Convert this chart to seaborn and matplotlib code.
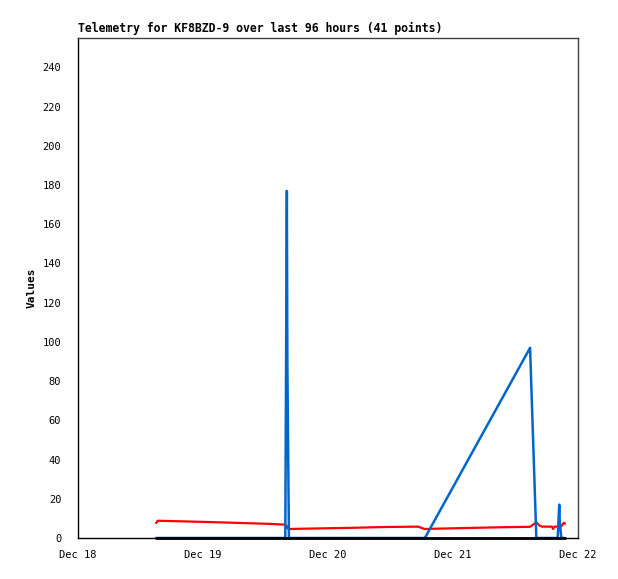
import numpy as np
import pandas as pd
import seaborn as sns
import matplotlib.pyplot as plt
import matplotlib.dates as mdates

# 時刻（12月18日0時からの経過時間）
hours = [15.0, 15.3, 24.4, 30.7, 36.9, 39.8, 40.1, 40.2, 40.5, 46.5,
         52.7, 58.9, 65.3, 66.4, 66.6, 71.2, 76.4, 81.6, 86.8, 88.0,
         88.6, 89.1, 91.0, 91.2, 91.5, 92.1, 92.4, 92.5, 92.8, 93.3, 93.5]

# 各系列の値（NaN はその時刻に値なし）
red_values = [7.6, 8.8, 8.2, 7.7, 7.2, 6.8, 6.0, 5.0, 4.6, 4.9,
              5.2, 5.6, 5.8, 4.7, 4.6, 4.9, 5.2, 5.5, 5.7, 8.0,
              6.4, 5.8, 5.8, 4.6, 5.8, 5.8, 5.8, 5.9, 6.0, 7.8, 7.3]
blue_values = [0, 0, 0, 0, 0, 0, 177, 88, 0, 0,
               0, 0, 0, 0, 0, np.nan, np.nan, np.nan, 97, 0,
               0, 0, 0, 0, 0, 0, 17, 8.3, 0, 0, 0]
black_values = [0] * len(hours)

title = 'Telemetry for KF8BZD-9 over last 96 hours (41 points)'
y_ticks = list(range(0, 241, 20))

base = pd.Timestamp('2023-12-18')
df = pd.DataFrame({
    'time': [base + pd.Timedelta(hours=h) for h in hours],
    'red': red_values,
    'blue': blue_values,
    'black': black_values,
})

sns.set_style('white')
plt.rcParams['font.family'] = ['DejaVu Sans Mono', 'DejaVu Sans']
plt.rcParams['text.color'] = 'black'
plt.rcParams['axes.labelcolor'] = 'black'

fig = plt.figure(figsize=(6.18, 5.79), dpi=100)
ax = fig.add_axes([78 / 618, 41 / 579, 500 / 618, 500 / 579])

# 線を描画（赤 → 青 → 黒の順）
sns.lineplot(data=df, x='time', y='red', ax=ax, color='#ff0000', linewidth=1.6, estimator=None)
sns.lineplot(data=df, x='time', y='blue', ax=ax, color='#0066cc', linewidth=1.8, estimator=None)
sns.lineplot(data=df, x='time', y='black', ax=ax, color='#000000', linewidth=2.0, estimator=None)
ax.lines[-1].set_clip_on(False)

ax.set_xlim(base, base + pd.Timedelta(days=4))
ax.set_ylim(0, 255)
ax.set_yticks(y_ticks)
ax.xaxis.set_major_locator(mdates.DayLocator())
ax.xaxis.set_major_formatter(mdates.DateFormatter('%b %d'))

ax.tick_params(axis='both', direction='out', length=5, width=1, colors='black', labelsize=7.5)
ax.tick_params(axis='y', pad=7)
ax.tick_params(axis='x', pad=4)

for side in ['left', 'bottom']:
    ax.spines[side].set_color('black')
    ax.spines[side].set_linewidth(1)
for side in ['top', 'right']:
    ax.spines[side].set_color('#404040')
    ax.spines[side].set_linewidth(1)

ax.set_xlabel('')
ax.set_ylabel('Values', fontsize=8, fontweight='bold', labelpad=4)
ax.set_title(title, loc='left', fontsize=8.3, fontweight='bold', pad=4, color='black')

fig.savefig('out.png', dpi=100)
